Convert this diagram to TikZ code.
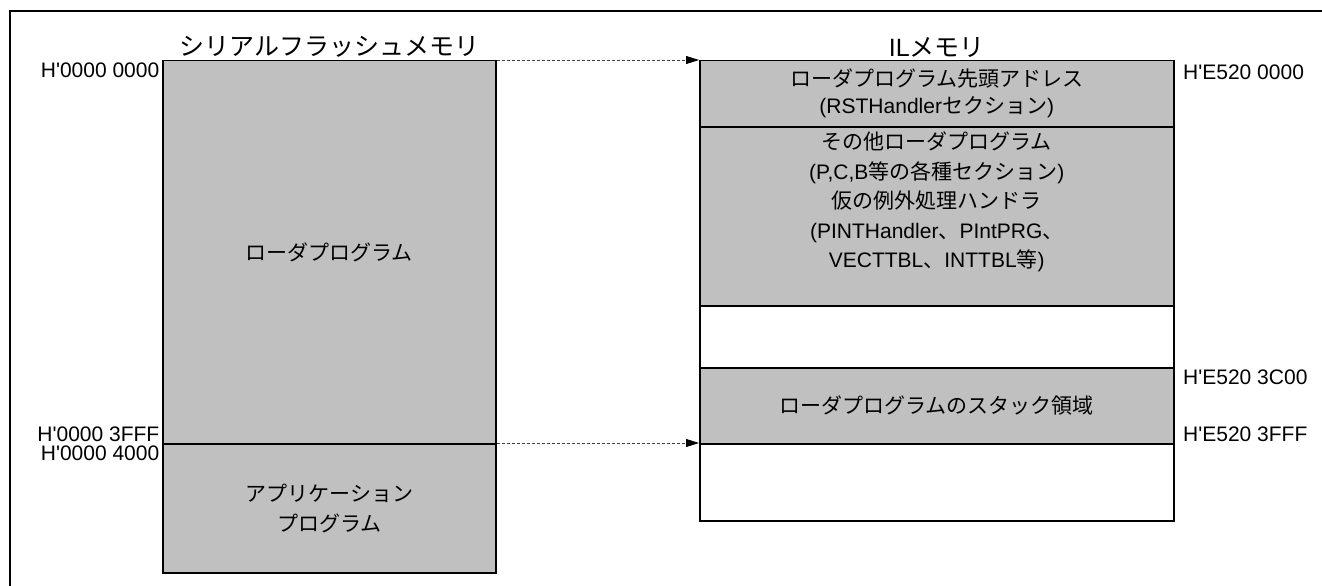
\documentclass[tikz,border=0pt]{standalone}
\usepackage{fontspec}
\setmainfont{Liberation Sans}
\newfontfamily\jp{Noto Sans CJK JP}
\usetikzlibrary{arrows.meta}
\definecolor{memgray}{HTML}{C0C0C0}
\newcommand\mybody{\fontsize{21}{27}\selectfont}
\newcommand\mybodyloose{\fontsize{21}{29.5}\selectfont}
\newcommand\mytitle{\fontsize{25}{30}\selectfont}
\newcommand\hq{H\textquotesingle}
\begin{document}
\begin{tikzpicture}[x=1pt,y=-1pt,
  mem/.style={draw, line width=1.5pt, fill=memgray, inner sep=0pt, anchor=north west, align=center, font=\mybody},
  memwhite/.style={mem, fill=white},
  leftmem/.style={minimum width=333pt},
  rightmem/.style={minimum width=474pt},
  addr/.style={font=\mybody, inner sep=2.5pt},
  memtitle/.style={font=\mytitle, inner sep=2pt, anchor=south},
  copyarrow/.style={draw=black!75, line width=0.8pt, dash pattern=on 3pt off 2pt, -{Triangle[length=13pt,width=8pt,color=black]}},
  frame/.style={line width=2.5pt}
]
\useasboundingbox (0,0) rectangle (1322,586);
\clip (0,0) rectangle (1322,586);
\draw[frame] (1340,11) -- (10,11) -- (10,600);

% serial flash memory
\node[mem, leftmem, minimum height=383pt] (sf1) at (162,60) {{\jp ローダプログラム}};
\node[mem, leftmem, minimum height=129pt, font=\mybodyloose] (sf2) at (162,443) {{\jp アプリケーション}\\{\jp プログラム}};
\node[memtitle] (sftitle) at (sf1.north) {\jp シリアルフラッシュメモリ};

% IL memory
\node[mem, rightmem, minimum height=66pt] (il1) at (699,60) {{\jp ローダプログラム先頭アドレス}\\(RSTHandler{\jp セクション})};
\node[mem, rightmem, minimum height=179pt] (il2) at (699,126) {};
\node[font=\mybodyloose, align=center, anchor=north, inner sep=0pt] (il2text) at ([yshift=-6pt]il2.north)
  {{\jp その他ローダプログラム}\\(P,C,B{\jp 等の各種セクション})\\{\jp 仮の例外処理ハンドラ}\\(PINTHandler{\jp 、}PIntPRG{\jp 、}\\VECTTBL{\jp 、}INTTBL{\jp 等})};
\node[memwhite, rightmem, minimum height=62pt] (il3) at (699,305) {};
\node[mem, rightmem, minimum height=76pt] (il4) at (699,367) {{\jp ローダプログラムのスタック領域}};
\node[memwhite, rightmem, minimum height=77pt] (il5) at (699,443) {};
\node[memtitle] (iltitle) at (il1.north) {IL{\jp メモリ}};

% addresses
\node[addr, anchor=north east] (a0) at (sf1.north west) {\hq0000 0000};
\node[addr, anchor=south east] (a1) at (sf1.south west) {\hq0000 3FFF};
\node[addr, anchor=north east] (a2) at (sf2.north west) {\hq0000 4000};
\node[addr, anchor=north west, xshift=6pt, yshift=-2pt] (b0) at (il1.north east) {\hq E520 0000};
\node[addr, anchor=north west, xshift=6pt] (b1) at (il4.north east) {\hq E520 3C00};
\node[addr, anchor=south west, xshift=6pt] (b2) at (il4.south east) {\hq E520 3FFF};

% copy arrows
\draw[copyarrow] (sf1.north east) -- (il1.north west);
\draw[copyarrow] (sf2.north east) -- (il5.north west);
\end{tikzpicture}
\end{document}
